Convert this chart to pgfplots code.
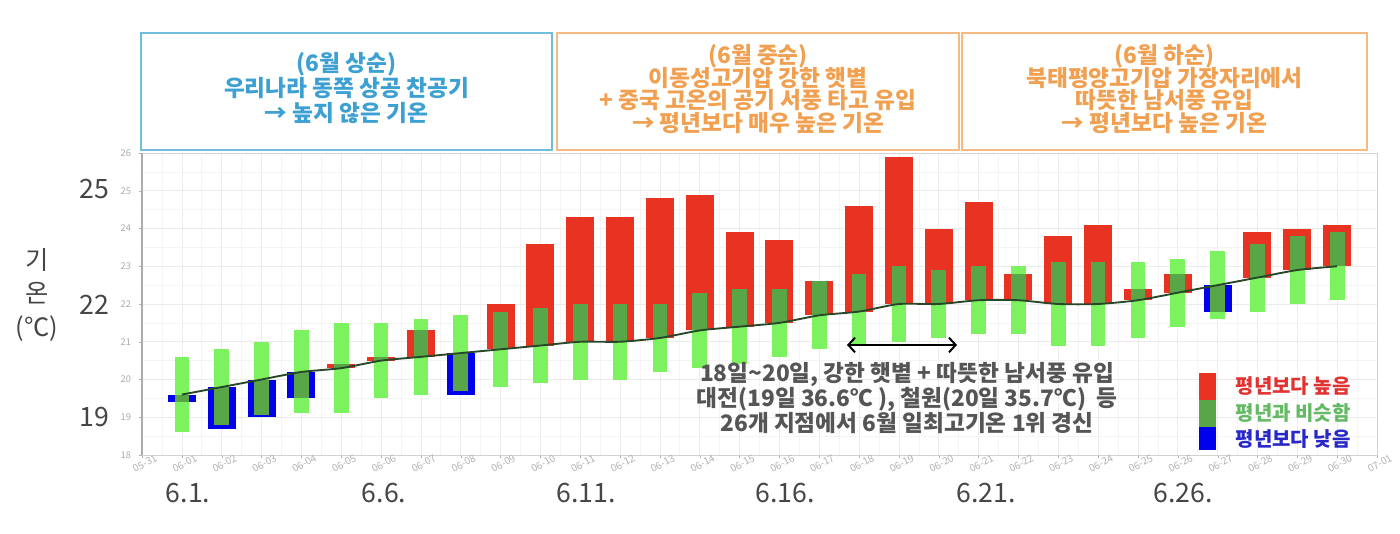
\documentclass[border=0pt]{standalone}
\usepackage{fontspec}
\setmainfont{Noto Sans CJK KR}
\usepackage{pgfplots}
\pgfplotsset{compat=1.18}
\usepackage{pgfplotstable}
\usetikzlibrary{arrows.meta}

\definecolor{cRed}{RGB}{232,51,35}
\definecolor{cBlue}{RGB}{0,0,235}
\definecolor{cLight}{RGB}{125,242,95}
\definecolor{cDark}{RGB}{88,166,72}
\definecolor{cLine}{RGB}{40,70,40}
\definecolor{bBlueLine}{RGB}{110,190,220}
\definecolor{bBlueText}{RGB}{60,160,210}
\definecolor{bOrLine}{RGB}{245,185,130}
\definecolor{bOrText}{RGB}{240,160,80}
\definecolor{annText}{RGB}{85,85,85}
\definecolor{bigText}{RGB}{70,70,70}
\definecolor{legRed}{RGB}{225,50,50}
\definecolor{legGreen}{RGB}{100,185,100}
\definecolor{legBlue}{RGB}{40,40,200}

% normal (climatological) temperature
\pgfplotstableread{
d N
1 19.6
2 19.8
3 20.0
4 20.2
5 20.3
6 20.5
7 20.6
8 20.7
9 20.8
10 20.9
11 21.0
12 21.0
13 21.1
14 21.3
15 21.4
16 21.5
17 21.7
18 21.8
19 22.0
20 22.0
21 22.1
22 22.1
23 22.0
24 22.0
25 22.1
26 22.3
27 22.5
28 22.7
29 22.9
30 23.0
}\normtab

% above normal: from normal up to actual
\pgfplotstableread{
d lo hi
5 20.3 20.4
6 20.5 20.6
7 20.6 21.3
9 20.8 22.0
10 20.9 23.6
11 21.0 24.3
12 21.0 24.3
13 21.1 24.8
14 21.3 24.9
15 21.4 23.9
16 21.5 23.7
17 21.7 22.6
18 21.8 24.6
19 22.0 25.9
20 22.0 24.0
21 22.1 24.7
22 22.1 22.8
23 22.0 23.8
24 22.0 24.1
25 22.1 22.4
26 22.3 22.8
28 22.7 23.9
29 22.9 24.0
30 23.0 24.1
}\redtab

% below normal: from actual up to normal
\pgfplotstableread{
d lo hi
1 19.4 19.6
2 18.7 19.8
3 19.0 20.0
4 19.5 20.2
8 19.6 20.7
27 21.8 22.5
}\bluetab

% similar-to-normal range
\pgfplotstableread{
d lo hi
1 18.6 20.6
2 18.8 20.8
3 19.05 21.0
4 19.1 21.3
5 19.1 21.5
6 19.5 21.5
7 19.6 21.6
8 19.7 21.7
9 19.8 21.8
10 19.9 21.9
11 20.0 22.0
12 20.0 22.0
13 20.2 22.0
14 20.3 22.3
15 20.4 22.4
16 20.6 22.4
17 20.8 22.6
18 20.9 22.8
19 21.0 23.0
20 21.1 22.9
21 21.2 23.0
22 21.2 23.0
23 20.9 23.1
24 20.9 23.1
25 21.1 23.1
26 21.4 23.2
27 21.6 23.4
28 21.8 23.6
29 22.0 23.8
30 22.1 23.9
}\greentab

% overlap of anomaly bar and similar range
\pgfplotstableread{
d lo hi
1 19.4 19.6
2 18.8 19.8
3 19.05 20.0
4 19.5 20.2
5 20.3 20.4
6 20.5 20.6
7 20.6 21.3
8 19.7 20.7
9 20.8 21.8
10 20.9 21.9
11 21.0 22.0
12 21.0 22.0
13 21.1 22.0
14 21.3 22.3
15 21.4 22.4
16 21.5 22.4
17 21.7 22.6
18 21.8 22.8
19 22.0 23.0
20 22.0 22.9
21 22.1 23.0
22 22.1 22.8
23 22.0 23.1
24 22.0 23.1
25 22.1 22.4
26 22.3 22.8
27 21.8 22.5
28 22.7 23.6
29 22.9 23.8
30 23.0 23.9
}\overtab

\pgfplotsset{rangebar/.style 2 args={draw=none, mark=none, forget plot,
  error bars/.cd, y dir=plus, y explicit, error mark=none,
  error bar style={line width=#1, draw=#2, solid}}}

\begin{document}
\lineskiplimit=-20pt
\lineskip=0pt
\begin{tikzpicture}
\begin{scope}[x=0.75pt,y=-0.75pt]
\path[use as bounding box, fill=white] (0,0) rectangle (1400,534);
\end{scope}

\begin{axis}[
  at={(106.5pt,-341.25pt)}, anchor=south west,
  scale only axis, width=926.25pt, height=226.5pt,
  xmin=0, xmax=31, ymin=18, ymax=26,
  clip=false,
  axis line style={draw=gray!35, line width=0.7pt},
  tick pos=left, tick align=outside,
  major tick length=2.5pt, minor tick length=0pt,
  tick style={draw=gray!60},
  xtick={0,...,31},
  xticklabels={05-31,06-01,06-02,06-03,06-04,06-05,06-06,06-07,06-08,06-09,06-10,06-11,06-12,06-13,06-14,06-15,06-16,06-17,06-18,06-19,06-20,06-21,06-22,06-23,06-24,06-25,06-26,06-27,06-28,06-29,06-30,07-01},
  ytick={18,...,26},
  minor x tick num=1, minor y tick num=1,
  grid=both,
  major grid style={draw=gray!16, line width=0.5pt},
  minor grid style={draw=gray!9, line width=0.5pt},
  /pgf/number format/assume math mode=true,
  xticklabel style={font=\fontsize{7.5}{7.5}\selectfont, text=gray!60, rotate=28, anchor=center, inner sep=0pt, yshift=-4.5pt},
  yticklabel style={font=\fontsize{7}{7}\selectfont, text=gray!65, inner sep=1pt, xshift=-4.5pt},
]
\addplot[rangebar={21pt}{cRed}]
  table[x=d, y=lo, y error expr=\thisrow{hi}-\thisrow{lo}] {\redtab};
\addplot[rangebar={21pt}{cBlue}]
  table[x=d, y=lo, y error expr=\thisrow{hi}-\thisrow{lo}] {\bluetab};
\addplot[rangebar={11pt}{cLight}]
  table[x=d, y=lo, y error expr=\thisrow{hi}-\thisrow{lo}] {\greentab};
\addplot[rangebar={11pt}{cDark}]
  table[x=d, y=lo, y error expr=\thisrow{hi}-\thisrow{lo}] {\overtab};
\addplot[smooth, tension=0.4, line width=1.4pt, draw=cLine, mark=none]
  table[x=d, y=N] {\normtab};
\draw[gray!65, line width=1pt] (axis cs:0,18) -- (axis cs:0,26);
\end{axis}

\begin{scope}[x=0.75pt,y=-0.75pt]
% boxes
\draw[bBlueLine, line width=1.1pt] (141,33) rectangle (552,150);
\draw[bOrLine, line width=1.1pt] (557,33) rectangle (959,150);
\draw[bOrLine, line width=1.1pt] (962,33) rectangle (1367,150);
\node[text=bBlueText, font=\fontsize{17}{18.8}\selectfont\bfseries, align=center] at (346.5,88)
  {(6월 상순)\\우리나라 동쪽 상공 찬공기\\→ 높지 않은 기온};
\node[text=bOrText, font=\fontsize{17}{16.8}\selectfont\bfseries, align=center] at (758,89)
  {(6월 중순)\\이동성고기압 강한 햇볕\\+ 중국 고온의 공기 서풍 타고 유입\\→ 평년보다 매우 높은 기온};
\node[text=bOrText, font=\fontsize{17}{16.8}\selectfont\bfseries, align=center] at (1164.5,89)
  {(6월 하순)\\북태평양고기압 가장자리에서\\따뜻한 남서풍 유입\\→ 평년보다 높은 기온};
% y label
\node[text=bigText, font=\fontsize{19}{25}\selectfont, align=center] at (37,295) {기\\온\\(℃)};
\foreach \v/\y in {25/189,22/305,19/417}
  \node[text=bigText, font=\fontsize{20}{20}\selectfont] at (94,\y) {\v};
% date labels
\foreach \t/\x in {6.1./188,6.6./384,6.11./586,6.16./785,6.21./986,6.26./1183}
  \node[text=bigText, font=\fontsize{20}{20}\selectfont] at (\x,493) {\t};
% arrow and annotation
\draw[{Straight Barb[length=5pt,width=11pt]}-{Straight Barb[length=5pt,width=11pt]}, line width=1.5pt, black]
  (847,345) -- (957,345);
\node[text=annText, font=\fontsize{17}{18.8}\selectfont\bfseries, align=center] at (907,398)
  {18일\textasciitilde 20일, 강한 햇볕 + 따뜻한 남서풍 유입\\대전(19일 36.6℃ ), 철원(20일 35.7℃)\ \ 등\\26개 지점에서 6월 일최고기온 1위 경신};
% legend
\fill[cRed] (1199,373) rectangle (1216,400);
\fill[cDark] (1199,400) rectangle (1216,427);
\fill[cBlue] (1199,427) rectangle (1216,450);
\node[anchor=west, text=legRed, font=\fontsize{15}{15}\selectfont\bfseries] at (1231,386) {평년보다 높음};
\node[anchor=west, text=legGreen, font=\fontsize{15}{15}\selectfont\bfseries] at (1231,413) {평년과 비슷함};
\node[anchor=west, text=legBlue, font=\fontsize{15}{15}\selectfont\bfseries] at (1231,439) {평년보다 낮음};
\end{scope}
\end{tikzpicture}
\end{document}
